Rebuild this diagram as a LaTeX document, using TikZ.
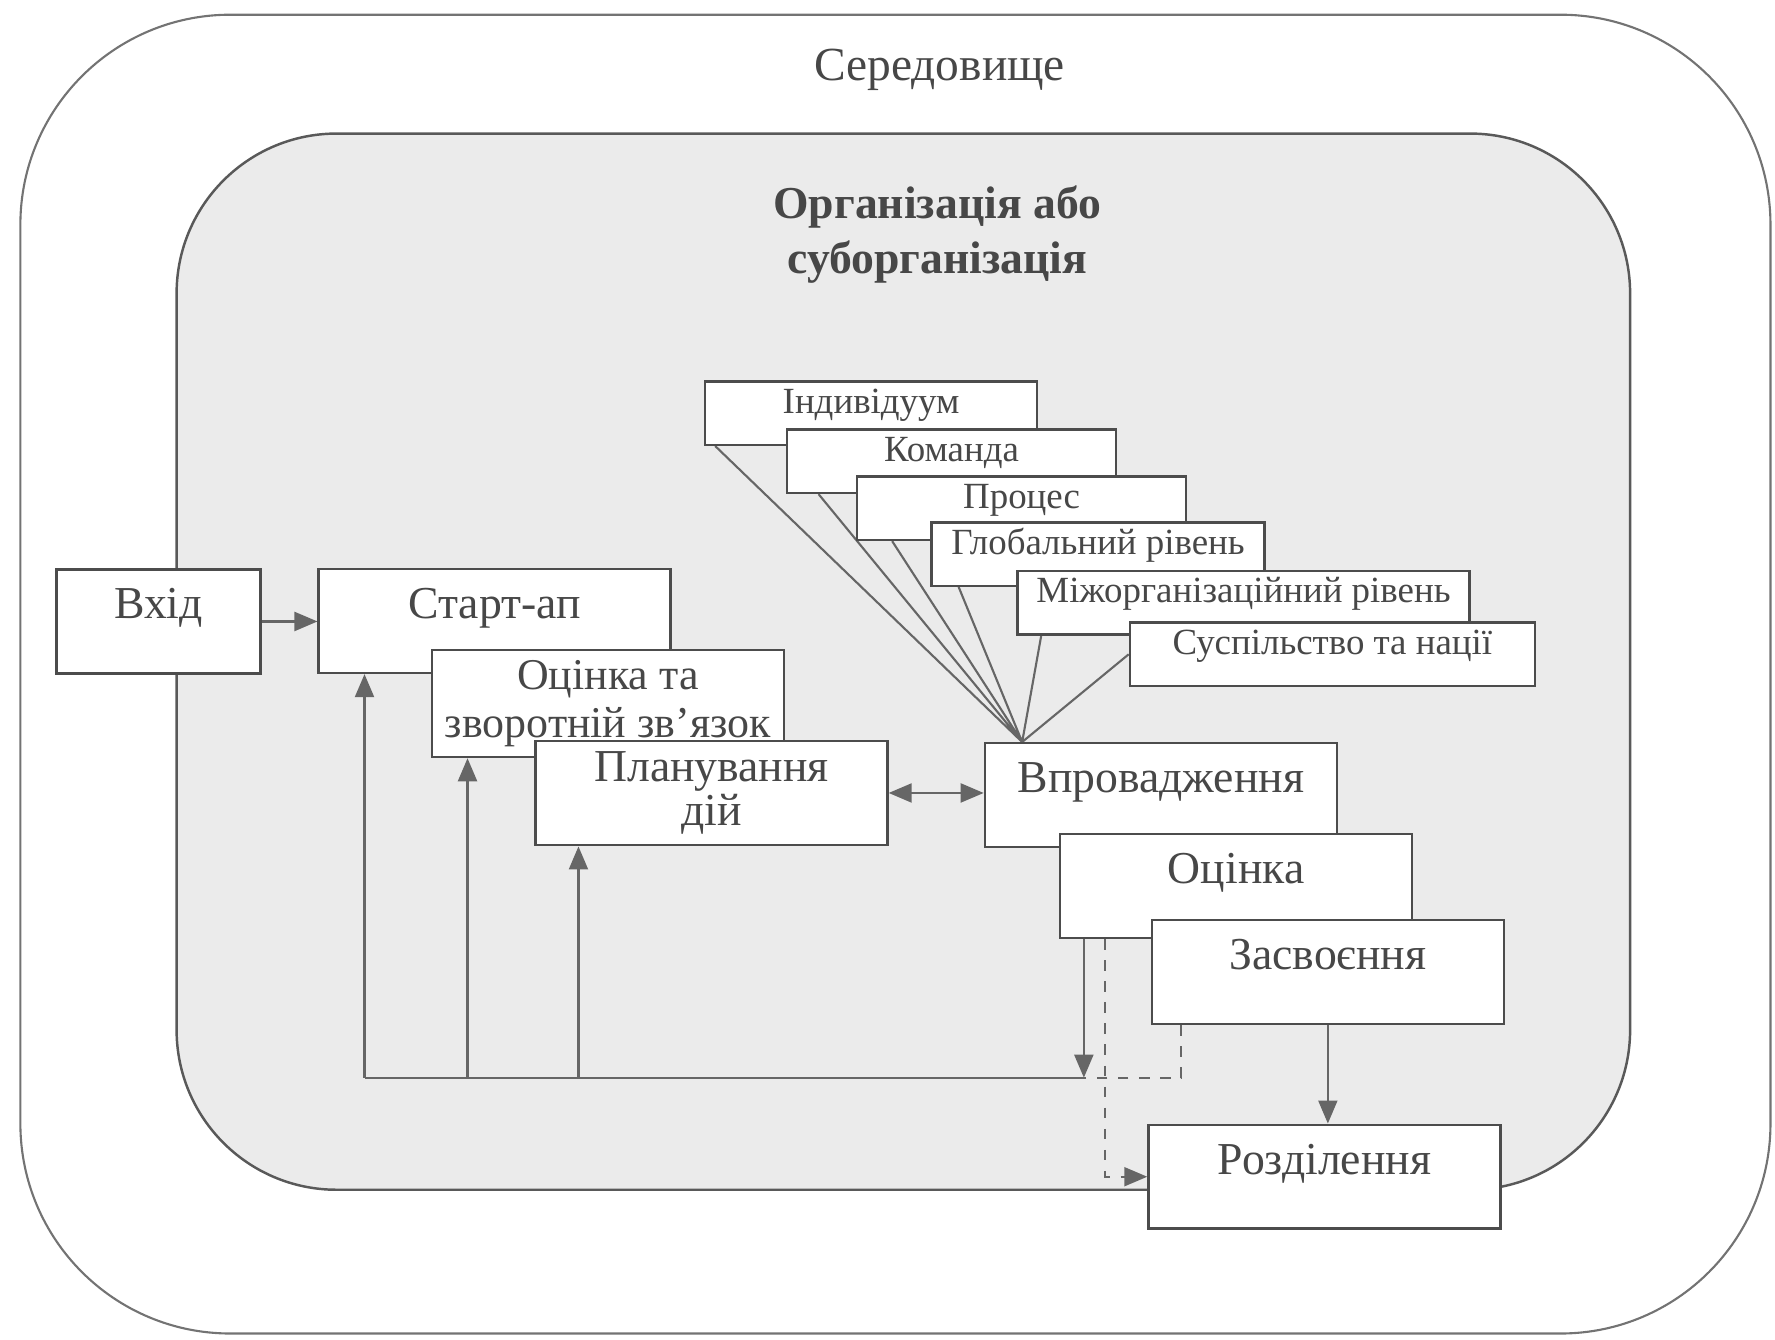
\documentclass[tikz,border=0pt]{standalone}
\usepackage{fontspec}
\setmainfont{Liberation Serif}
\usetikzlibrary{arrows.meta,backgrounds,calc}

\begin{document}
\begin{tikzpicture}[x=0.01132cm,y=-0.01132cm,
  every node/.style={text=black!72},
  stage/.style={draw=black!70,fill=white,line width=0.7pt,minimum width=3.52cm,minimum height=1.04cm,
    inner sep=3pt,align=center,font=\fontsize{13}{13.5}\selectfont},
  onestage/.style={stage,text height=11pt,text depth=12.5pt},
  tier/.style={draw=black!70,fill=white,line width=0.7pt,minimum height=0.63cm,inner sep=1pt,
    text height=8pt,text depth=8pt,font=\fontsize{10.5}{13}\selectfont},
  link/.style={draw=black!60,line width=0.6pt},
  arrowto/.style={-{Triangle[length=2.3mm,width=1.9mm]}},
  arrowboth/.style={{Triangle[length=2.3mm,width=1.9mm]}-{Triangle[length=2.3mm,width=1.9mm]}}]

  \useasboundingbox (0,0) rectangle (1568,1183);

  % Environment and organisation frames

  \begin{pgfonlayer}{background}
    \draw [black!55,line width=0.6pt,rounded corners=2.1cm] (18,13) rectangle (1564,1178);
    \draw [black!65,line width=0.7pt,fill=black!8,rounded corners=1.6cm] (156,118) rectangle (1440,1051);
  \end{pgfonlayer}

  \node (env) at (830,62) [font=\fontsize{13.5}{16}\selectfont] {Середовище};
  \node (org) at (828,207) [font=\fontsize{13}{15.7}\selectfont\bfseries,align=center]
    {Організація або\\суборганізація};

  % Levels of learning

  \node [tier,minimum width=3.32cm] (indiv) at (769.5,365) {Індивідуум};
  \node [tier,minimum width=3.29cm] (team) at (840.5,407.5) {Команда};
  \node [tier,minimum width=3.29cm] (proc) at (902.5,449) {Процес};
  \node [tier,minimum width=3.33cm] (glob) at (970,489.5) {Глобальний рівень};
  \node [tier,minimum width=4.52cm] (inter) at (1098.5,532.5) {Міжорганізаційний рівень};
  \node [tier,minimum width=4.05cm] (soc) at (1177,578) {Суспільство та нації};

  % Stages of the process

  \node [onestage,minimum width=2.04cm] (vhid) at (140,549) {Вхід};
  \node [onestage] (start) at (437,548.5) {Старт-ап};
  \node [stage,inner xsep=1pt,font=\fontsize{12.5}{13.5}\selectfont] (fback) at (537,621.5)
    {Оцінка та\\зворотній зв'язок};
  \node [stage,font=\fontsize{13}{11}\selectfont] (plan) at (628.5,700.5) {Планування\\дій};

  \node [onestage] (impl) at (1025.5,702.5) {Впровадження};
  \node [onestage] (eval) at (1092,782.5) {Оцінка};
  \node [onestage] (learn) at (1173,858.5) {Засвоєння};
  \node [onestage] (split) at (1170,1039.5) {Розділення};

  \coordinate (hub) at ($(impl.north west)+(34,0)$);
  \coordinate (loopA) at (322,952);
  \coordinate (loopB) at (413,952);
  \coordinate (loopC) at (511,952);
  \coordinate (evalA) at ($(eval.south west)+(22,0)$);
  \coordinate (evalB) at ($(eval.south west)+(41,0)$);
  \coordinate (learnA) at ($(learn.south west)+(27,0)$);

  % Connections

  \begin{pgfonlayer}{background}
    \draw [link]
      ($(indiv.south west)+(10,0)$) -- (hub)
      ($(team.south west)+(29,0)$) -- (hub)
      ($(proc.south west)+(32,0)$) -- (hub)
      ($(glob.south west)+(25,0)$) -- (hub)
      ($(inter.south west)+(22,0)$) -- (hub)
      (soc.west) -- (hub);

    \draw [link,arrowto] (vhid.east) -- (vhid.east -| start.west);
    \draw [link,arrowboth] (plan.east) -- (plan.east -| impl.west);

    \draw [link] (evalA |- loopA) -- (loopA);
    \draw [link,arrowto] (loopA) -- (loopA |- start.south);
    \draw [link,arrowto] (loopB) -- (loopB |- fback.south);
    \draw [link,arrowto] (loopC) -- (loopC |- plan.south);

    \draw [link,arrowto] (evalA) -- (evalA |- loopA);
    \draw [link,dashed] (learnA) |- (evalA |- loopA);
    \draw [link,dashed,arrowto] (evalB) |- (split.west);
    \draw [link,arrowto] (learn.south) -- (learn.south |- split.north);
  \end{pgfonlayer}
\end{tikzpicture}
\end{document}
